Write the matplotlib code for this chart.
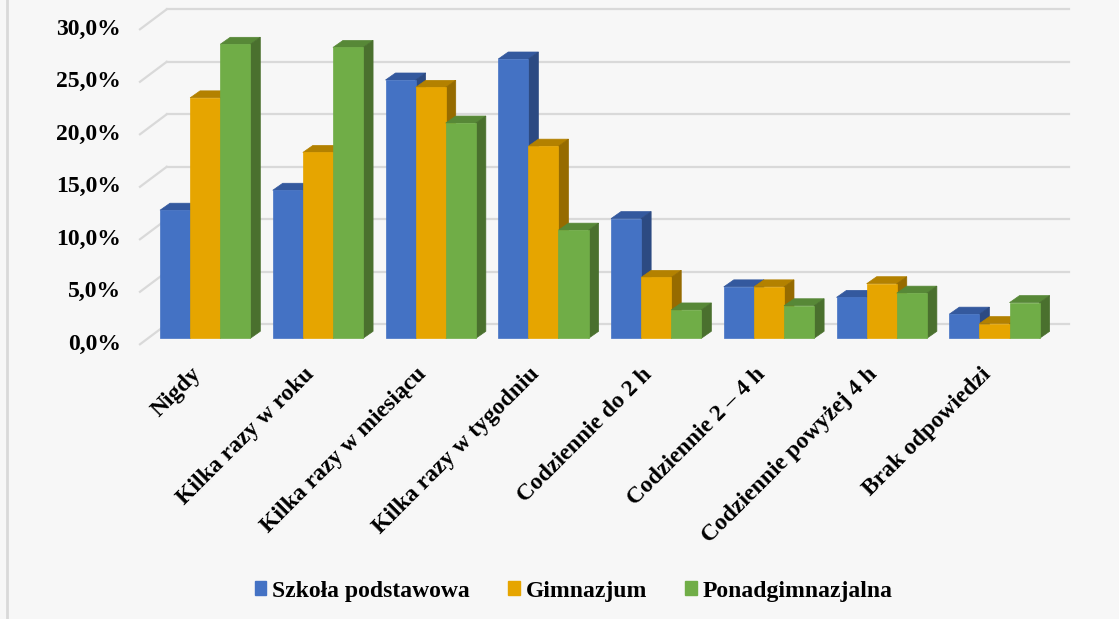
import numpy as np
import matplotlib
matplotlib.use("Agg")
import matplotlib.pyplot as plt
from matplotlib.patches import Polygon, Patch

# data (percent)
categories = ["Nigdy", "Kilka razy w roku", "Kilka razy w miesiącu", "Kilka razy w tygodniu",
              "Codziennie do 2 h", "Codziennie 2 – 4 h", "Codziennie powyżej 4 h", "Brak odpowiedzi"]
series_names = ["Szkoła podstawowa", "Gimnazjum", "Ponadgimnazjalna"]
szkola = [12.2, 14.1, 24.6, 26.6, 11.4, 4.9, 3.9, 2.3]
gimnazjum = [22.9, 17.7, 23.9, 18.3, 5.8, 4.9, 5.2, 1.4]
ponadgimn = [28.0, 27.7, 20.5, 10.3, 2.7, 3.1, 4.3, 3.4]
yticks = [0, 5, 10, 15, 20, 25, 30]

front_cols = ["#4472c4", "#e6a500", "#70ad47"]
side_cols = ["#2c4a82", "#966b00", "#4a702e"]
top_cols = ["#34599e", "#b38100", "#578837"]

plt.rcParams['font.family'] = ['Liberation Serif', 'DejaVu Serif']
plt.rcParams['font.weight'] = 'bold'

fig = plt.figure(figsize=(11.19, 6.19), dpi=100)
fig.patch.set_facecolor("#f7f7f7")
ax = fig.add_axes([0, 0, 1, 1])
ax.set_facecolor("#f7f7f7")
ax.set_xlim(-1.8194, 8.1044)
ax.set_ylim(-26.733, 32.219)
ax.axis('off')

w = 0.267        # bar width (category units)
ddx, ddy = 0.0887, 0.667   # bar depth offset
wall_dy = 1.333            # back wall offset
front_dx, front_dy = -0.578, -0.571   # front plane offset (labels)
wall_x0, wall_x1 = -0.341, 7.664

grid_col = "#d9d9d9"
for t in yticks:
    ax.plot([wall_x0, wall_x1], [t + wall_dy, t + wall_dy], color=grid_col, lw=1.6, zorder=1)
    ax.plot([front_dx, wall_x0], [t + front_dy, t + wall_dy], color=grid_col, lw=1.6, zorder=1)
    ax.text(-0.746, t + front_dy, f"{t},0%", ha='right', va='center', fontsize=17)

x = np.arange(len(categories))
data = [szkola, gimnazjum, ponadgimn]
for i in x:
    for s, vals in enumerate(data):
        left = i - 1.5 * w + s * w
        h = vals[i]
        top = Polygon([(left, h), (left + w, h), (left + w + ddx, h + ddy), (left + ddx, h + ddy)],
                      closed=True, facecolor=top_cols[s], edgecolor=top_cols[s], lw=0.5, zorder=2)
        side = Polygon([(left + w, 0), (left + w + ddx, ddy), (left + w + ddx, h + ddy), (left + w, h)],
                       closed=True, facecolor=side_cols[s], edgecolor=side_cols[s], lw=0.5, zorder=2)
        ax.add_patch(top)
        ax.add_patch(side)
        ax.bar(left, h, width=w, align='edge', color=front_cols[s], edgecolor=front_cols[s],
               lw=0.5, zorder=2)

for i, lab in enumerate(categories):
    ax.text(i - 0.063, -3.11, lab, rotation=45, rotation_mode='anchor', ha='right', va='center',
            fontsize=17)

# left border of the chart area
ax.plot([-1.76, -1.76], [-26.733, 32.219], color="#d9d9d9", lw=2, zorder=1)

handles = [Patch(facecolor=c, edgecolor=c) for c in front_cols]
fig.legend(handles, series_names, loc='center', bbox_to_anchor=(573.5 / 1119, 1 - 591 / 619),
           ncol=3, frameon=False, fontsize=17, handlelength=0.5, handleheight=0.5,
           handletextpad=0.25, columnspacing=1.6)

fig.savefig("out.png", dpi=100, facecolor=fig.get_facecolor())
